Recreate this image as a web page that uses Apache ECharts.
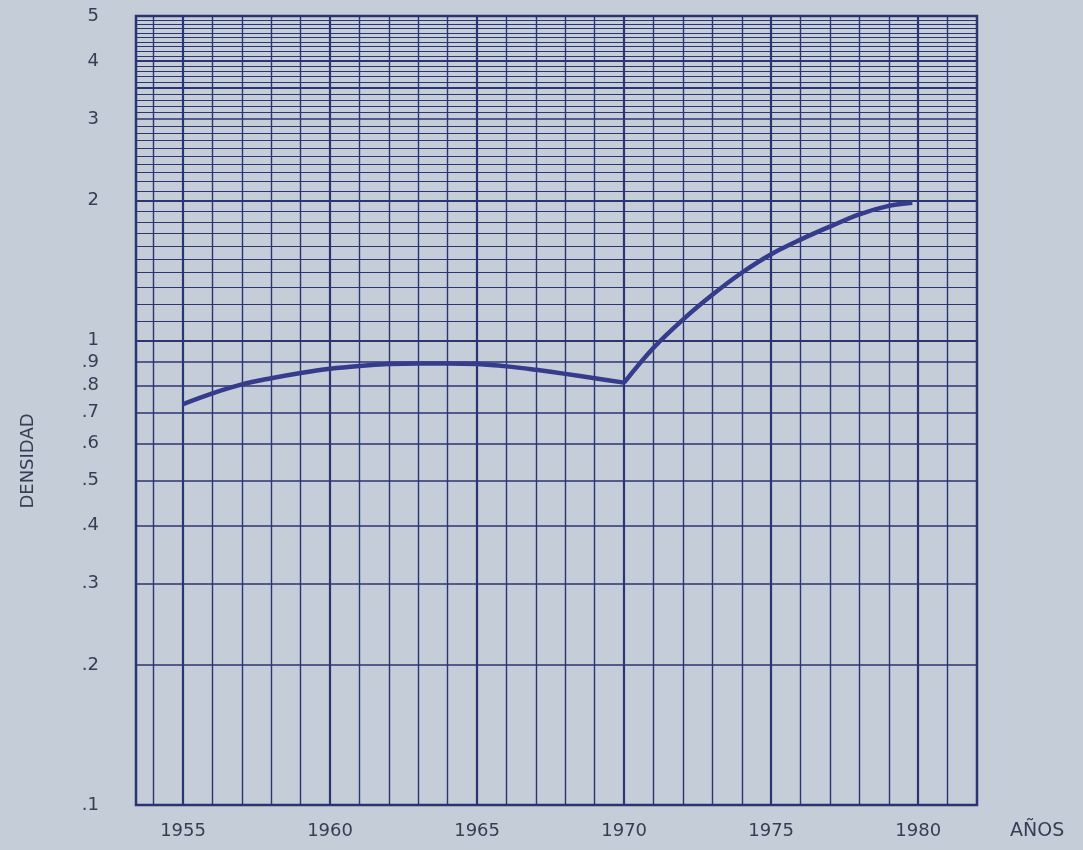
<!DOCTYPE html>
<html>
<head>
<meta charset="utf-8">
<title>Densidad</title>
<script src="https://cdn.jsdelivr.net/npm/echarts@6/dist/echarts.min.js"></script>
<style>
  html, body { margin: 0; padding: 0; background: #c5cdd9; }
  #main { width: 1083px; height: 850px; }
</style>
</head>
<body>
<div id="main"></div>
<script>
// tramo 1955-1970
const yearsA = [1955, 1956, 1957, 1958, 1959, 1960, 1961, 1962, 1963, 1964, 1965, 1966, 1967, 1968, 1969, 1970];
const densityA = [0.73, 0.77, 0.805, 0.83, 0.852, 0.87, 0.882, 0.89, 0.893, 0.893, 0.89, 0.88, 0.865, 0.848, 0.83, 0.812];
// tramo 1970-1980
const yearsB = [1970, 1971, 1972, 1973, 1974, 1975, 1976, 1977, 1978, 1979, 1979.8];
const densityB = [0.812, 0.965, 1.11, 1.255, 1.4, 1.535, 1.65, 1.76, 1.87, 1.95, 1.98];

// escala
const yTickValues = [0.1, 0.2, 0.3, 0.4, 0.5, 0.6, 0.7, 0.8, 0.9, 1, 2, 3, 4, 5];
const yTickLabels = ['.1', '.2', '.3', '.4', '.5', '.6', '.7', '.8', '.9', '1', '2', '3', '4', '5'];
const yFineLines = [1.1, 1.2, 1.3, 1.4, 1.5, 1.6, 1.7, 1.8, 1.9,
  2.1, 2.2, 2.3, 2.4, 2.5, 2.6, 2.7, 2.8, 2.9,
  3.1, 3.2, 3.3, 3.4, 3.5, 3.6, 3.7, 3.8, 3.9,
  4.1, 4.2, 4.3, 4.4, 4.5, 4.6, 4.7, 4.8, 4.9];
const yHeavyLines = [1, 2, 3.5, 4];
const xGridYears = [1954, 1955, 1956, 1957, 1958, 1959, 1960, 1961, 1962, 1963, 1964, 1965, 1966, 1967,
  1968, 1969, 1970, 1971, 1972, 1973, 1974, 1975, 1976, 1977, 1978, 1979, 1980, 1981];
const xLabelYears = [1955, 1960, 1965, 1970, 1975, 1980];

const ink = '#2b3572';
const textColor = '#373d52';
const font = '"DejaVu Sans", sans-serif';

let chart = echarts.init(document.getElementById('main'));

let gridLines = [];
yFineLines.forEach((v) => {
  gridLines.push({
    yAxis: v,
    lineStyle: { width: yHeavyLines.includes(v) ? 2.2 : 1.1 },
    label: { show: false },
  });
});
yTickValues.forEach((v, i) => {
  gridLines.push({
    yAxis: v,
    name: yTickLabels[i],
    lineStyle: { width: yHeavyLines.includes(v) ? 2.2 : 1.5 },
    label: {
      show: true,
      position: 'start',
      distance: 37,
      formatter: (p) => p.name,
      color: textColor,
      fontSize: 18,
      fontFamily: font,
    },
  });
});
xGridYears.forEach((y) => {
  let labeled = xLabelYears.includes(y);
  gridLines.push({
    xAxis: y,
    name: String(y),
    lineStyle: { width: labeled ? 2.2 : 1.4 },
    label: {
      show: labeled,
      position: 'start',
      distance: 17,
      formatter: (p) => p.name,
      color: textColor,
      fontSize: 18,
      fontFamily: font,
    },
  });
});

let option = {
  animation: false,
  backgroundColor: '#c5cdd9',
  grid: {
    left: 136,
    right: 106,
    top: 16,
    bottom: 45,
    show: true,
    borderColor: ink,
    borderWidth: 2.5,
    backgroundColor: 'transparent',
  },
  xAxis: {
    type: 'value',
    min: 1953.4,
    max: 1982,
    name: 'AÑOS',
    nameLocation: 'end',
    nameGap: 33,
    nameTextStyle: {
      color: textColor,
      fontSize: 19,
      fontFamily: font,
      align: 'left',
      verticalAlign: 'top',
      padding: [17, 0, 0, 0],
    },
    axisLine: { show: false },
    axisTick: { show: false },
    axisLabel: { show: false },
    splitLine: { show: false },
  },
  yAxis: {
    type: 'log',
    logBase: 10,
    min: 0.1,
    max: 5,
    axisLine: { show: false },
    axisTick: { show: false },
    axisLabel: { show: false },
    splitLine: { show: false },
  },
  graphic: [
    {
      type: 'text',
      x: 28,
      y: 461,
      rotation: Math.PI / 2,
      style: {
        text: 'DENSIDAD',
        fill: textColor,
        font: '18px ' + font,
        textAlign: 'center',
        textVerticalAlign: 'middle',
      },
    },
  ],
  series: [
    {
      name: 'reticula',
      type: 'line',
      data: [],
      z: 1,
      silent: true,
      markLine: {
        silent: true,
        symbol: 'none',
        animation: false,
        lineStyle: { color: ink, type: 'solid', width: 1.2 },
        emphasis: { disabled: true },
        data: gridLines,
      },
    },
    {
      name: 'densidad 1955-1970',
      type: 'line',
      z: 5,
      smooth: 0.35,
      showSymbol: false,
      lineStyle: { color: '#363c8c', width: 4.5 },
      data: yearsA.map((y, i) => [y, densityA[i]]),
    },
    {
      name: 'densidad 1970-1980',
      type: 'line',
      z: 5,
      smooth: 0.35,
      showSymbol: false,
      lineStyle: { color: '#363c8c', width: 4.5 },
      data: yearsB.map((y, i) => [y, densityB[i]]),
    },
  ],
};
chart.setOption(option);
</script>
</body>
</html>
